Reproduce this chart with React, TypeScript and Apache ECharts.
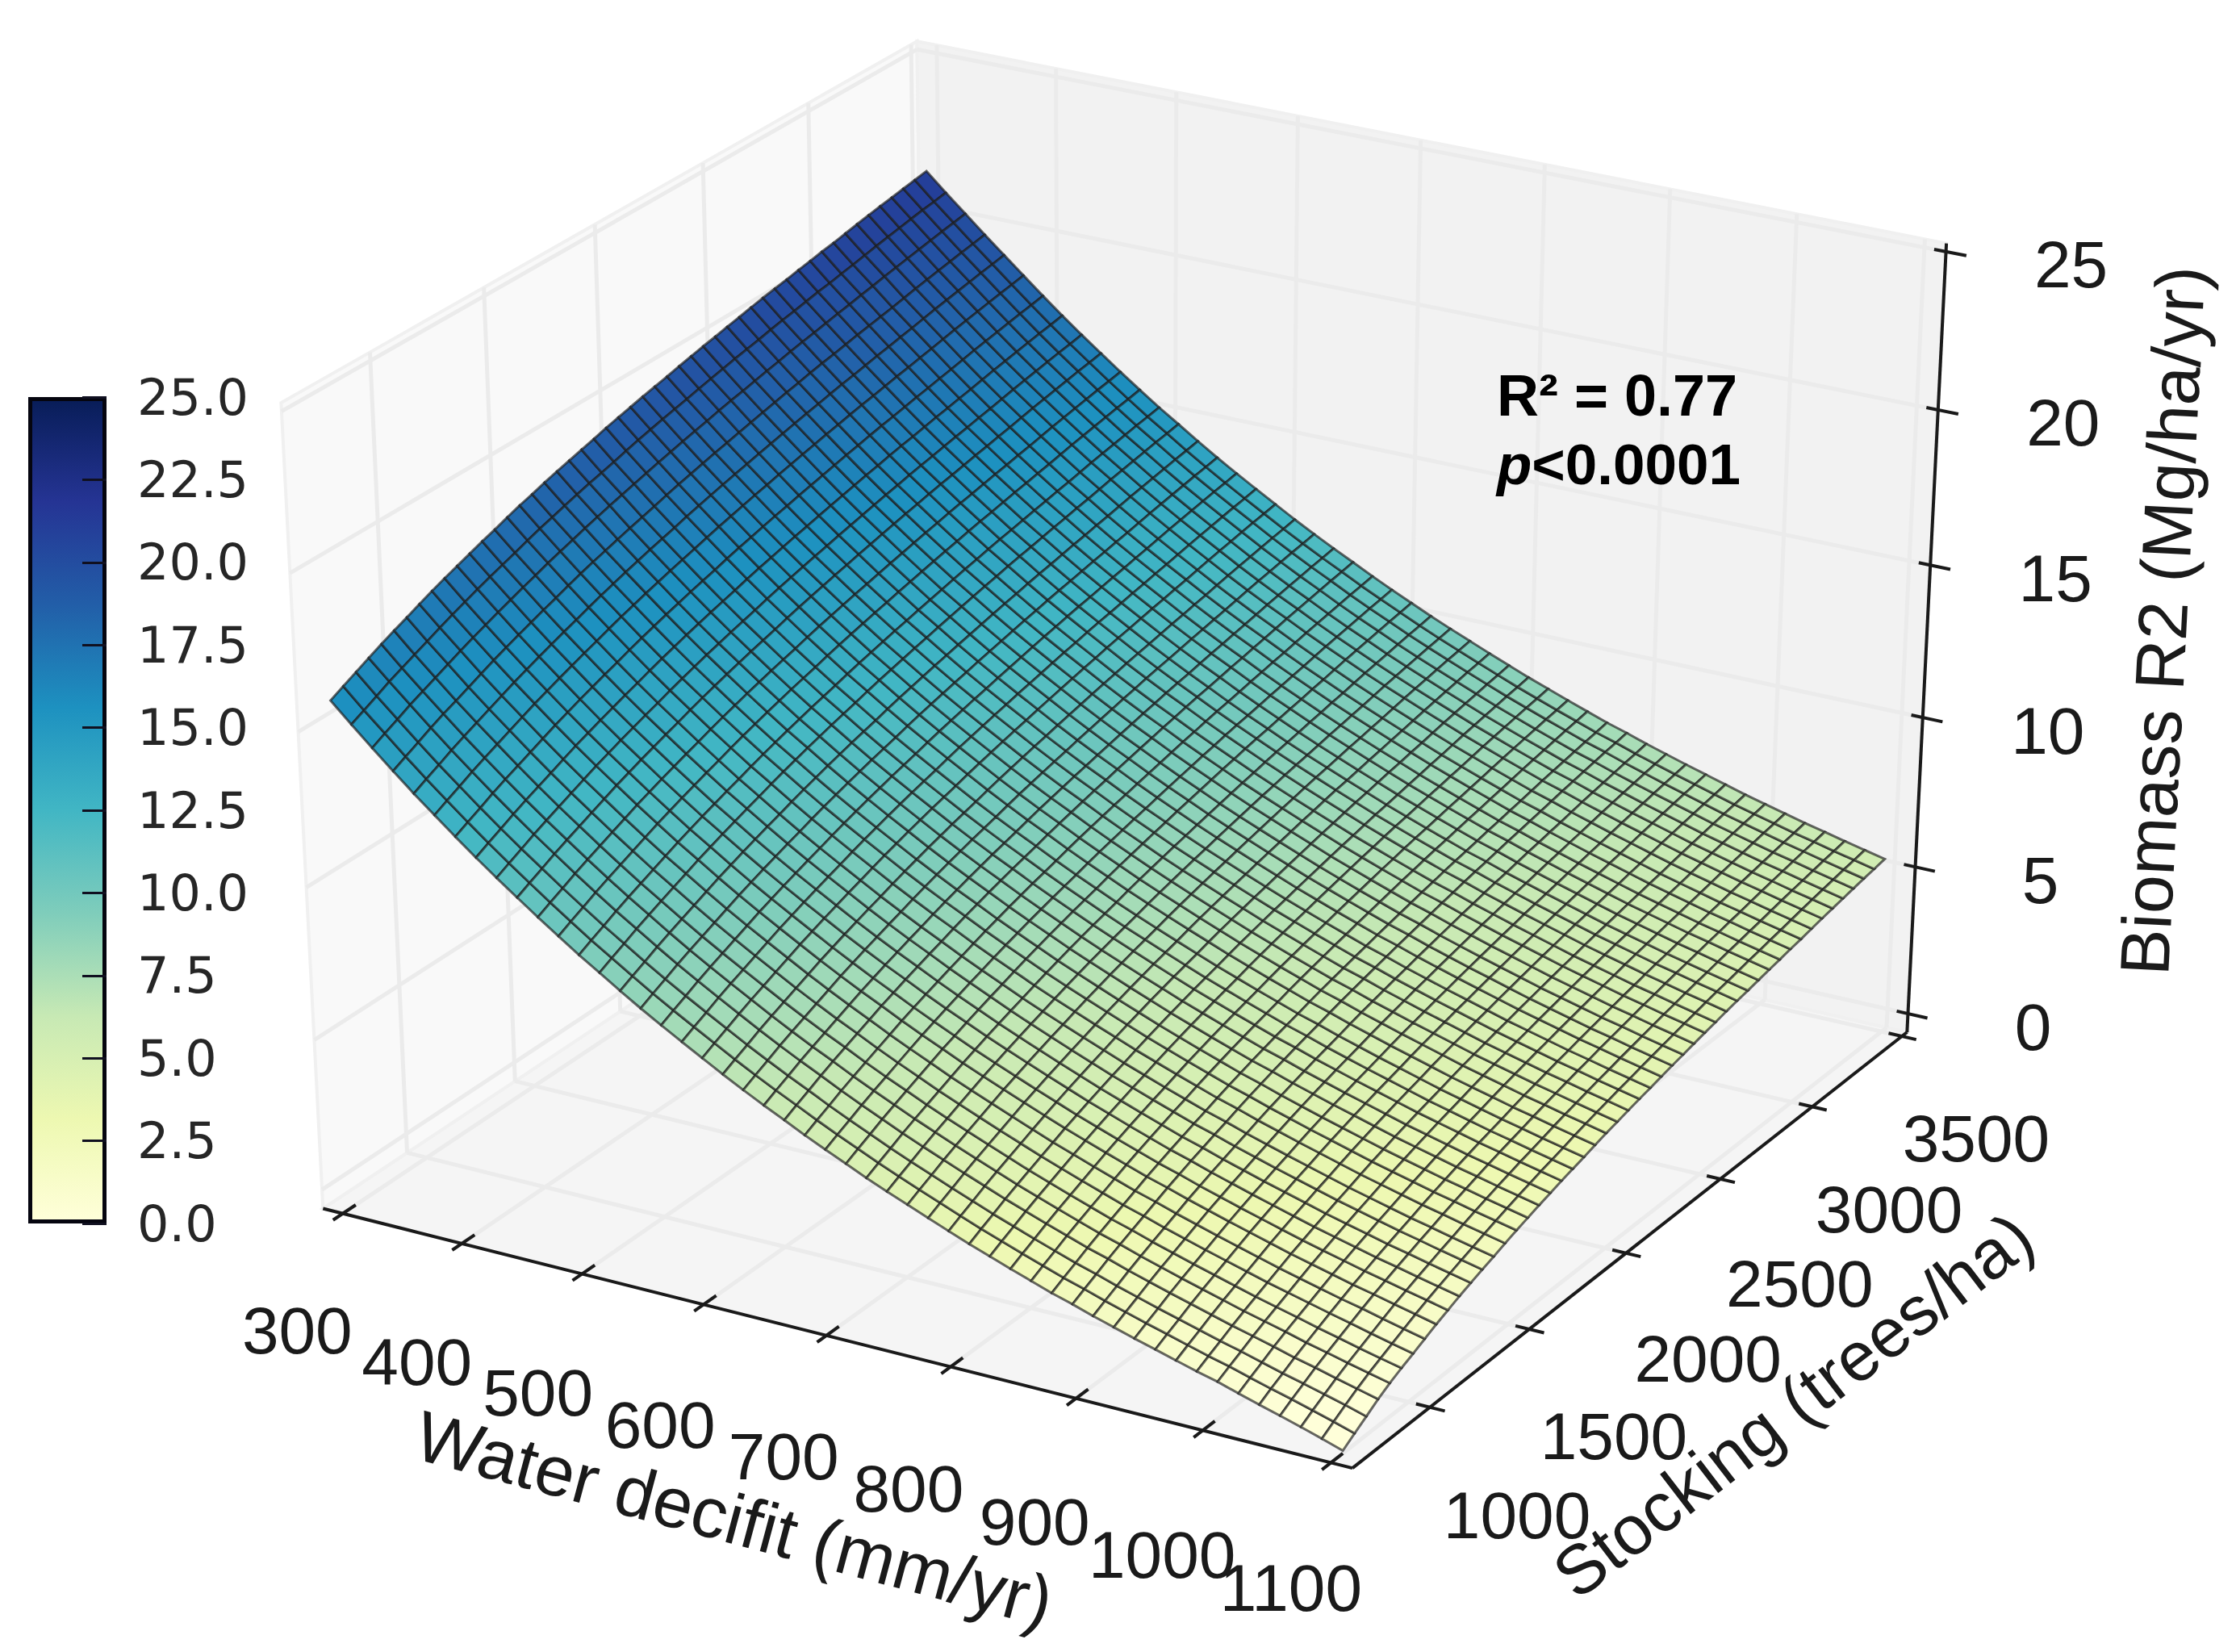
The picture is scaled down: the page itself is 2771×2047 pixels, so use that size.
import React, { useEffect, useRef } from "react";
import * as echarts from "echarts";

const waterDeficit = [300,316.3,332.7,349,365.3,381.6,398,414.3,430.6,446.9,463.3,479.6,495.9,512.2,528.6,544.9,561.2,577.6,593.9,610.2,626.5,642.9,659.2,675.5,691.8,708.2,724.5,740.8,757.1,773.5,789.8,806.1,822.4,838.8,855.1,871.4,887.8,904.1,920.4,936.7,953.1,969.4,985.7,1002,1018.4,1034.7,1051,1067.3,1083.7,1100];
const stocking = [677,734,791,848,905,962,1019,1076,1133,1190,1247,1304,1361,1418,1475,1532,1589,1646,1703,1760,1817,1874,1931,1988,2045,2102,2159,2216,2273,2330,2387,2444,2501,2558,2615,2672,2729,2786,2843,2900,2957,3014,3071,3128,3185,3242,3299,3356,3413,3471];
const biomass = [
[15.89,16.09,16.29,16.49,16.68,16.86,17.03,17.21,17.38,17.54,17.69,17.84,17.99,18.12,18.27,18.41,18.53,18.66,18.78,18.89,19.00,19.11,19.23,19.33,19.43,19.53,19.62,19.71,19.81,19.90,19.99,20.07,20.16,20.24,20.33,20.41,20.48,20.55,20.63,20.70,20.78,20.84,20.92,21.00,21.07,21.14,21.20,21.27,21.33,21.40],
[15.27,15.47,15.67,15.88,16.06,16.24,16.42,16.60,16.77,16.93,17.09,17.24,17.38,17.52,17.67,17.81,17.93,18.06,18.18,18.30,18.40,18.51,18.63,18.74,18.84,18.94,19.03,19.12,19.22,19.31,19.40,19.49,19.57,19.65,19.74,19.82,19.89,19.97,20.05,20.11,20.19,20.26,20.34,20.42,20.49,20.56,20.63,20.70,20.75,20.82],
[14.67,14.88,15.08,15.29,15.47,15.65,15.83,16.01,16.18,16.34,16.50,16.65,16.80,16.94,17.09,17.22,17.35,17.48,17.60,17.72,17.83,17.94,18.05,18.16,18.26,18.36,18.46,18.55,18.65,18.74,18.82,18.91,19.00,19.08,19.17,19.25,19.32,19.40,19.48,19.55,19.63,19.70,19.78,19.85,19.92,19.99,20.06,20.13,20.19,20.26],
[14.08,14.29,14.49,14.70,14.89,15.06,15.24,15.42,15.60,15.76,15.92,16.07,16.22,16.36,16.51,16.65,16.78,16.90,17.02,17.14,17.25,17.36,17.48,17.59,17.69,17.79,17.89,17.98,18.08,18.17,18.26,18.35,18.44,18.52,18.61,18.69,18.76,18.84,18.92,18.99,19.06,19.13,19.21,19.29,19.36,19.43,19.50,19.57,19.63,19.70],
[13.51,13.72,13.92,14.13,14.32,14.50,14.68,14.86,15.04,15.20,15.36,15.51,15.66,15.80,15.95,16.09,16.22,16.35,16.47,16.59,16.70,16.81,16.93,17.04,17.14,17.24,17.34,17.43,17.53,17.62,17.71,17.80,17.89,17.97,18.06,18.14,18.21,18.29,18.37,18.44,18.52,18.59,18.67,18.75,18.82,18.89,18.96,19.03,19.09,19.16],
[12.97,13.18,13.38,13.59,13.78,13.96,14.14,14.32,14.50,14.66,14.82,14.97,15.12,15.26,15.41,15.55,15.68,15.81,15.93,16.05,16.16,16.27,16.39,16.50,16.60,16.70,16.80,16.89,16.99,17.08,17.17,17.26,17.35,17.43,17.52,17.60,17.67,17.75,17.83,17.90,17.98,18.05,18.13,18.21,18.28,18.35,18.42,18.49,18.55,18.62],
[12.43,12.64,12.84,13.05,13.24,13.42,13.60,13.78,13.96,14.12,14.28,14.43,14.58,14.72,14.87,15.01,15.14,15.27,15.39,15.51,15.62,15.73,15.85,15.96,16.06,16.16,16.26,16.35,16.45,16.54,16.63,16.72,16.81,16.89,16.98,17.06,17.13,17.21,17.29,17.36,17.44,17.51,17.59,17.67,17.74,17.81,17.88,17.95,18.01,18.08],
[11.91,12.12,12.32,12.53,12.72,12.90,13.08,13.26,13.44,13.60,13.76,13.91,14.06,14.20,14.35,14.49,14.62,14.75,14.87,14.99,15.10,15.21,15.33,15.44,15.54,15.64,15.74,15.83,15.93,16.02,16.11,16.20,16.29,16.37,16.46,16.54,16.61,16.69,16.77,16.84,16.92,16.99,17.07,17.15,17.22,17.29,17.36,17.43,17.49,17.56],
[11.41,11.62,11.82,12.03,12.22,12.40,12.58,12.76,12.94,13.10,13.26,13.41,13.56,13.70,13.85,13.99,14.12,14.25,14.37,14.49,14.60,14.71,14.83,14.94,15.04,15.14,15.24,15.33,15.43,15.52,15.61,15.70,15.79,15.87,15.96,16.04,16.11,16.19,16.27,16.34,16.42,16.49,16.57,16.65,16.72,16.79,16.86,16.93,16.99,17.06],
[10.93,11.14,11.34,11.55,11.74,11.92,12.10,12.28,12.46,12.62,12.78,12.93,13.08,13.22,13.37,13.51,13.64,13.77,13.89,14.01,14.12,14.23,14.35,14.46,14.56,14.66,14.76,14.85,14.95,15.04,15.13,15.22,15.31,15.39,15.48,15.56,15.63,15.71,15.79,15.86,15.94,16.01,16.09,16.17,16.24,16.31,16.38,16.45,16.51,16.58],
[10.45,10.66,10.86,11.07,11.26,11.44,11.62,11.80,11.98,12.14,12.30,12.45,12.60,12.74,12.89,13.03,13.16,13.29,13.41,13.53,13.64,13.75,13.87,13.98,14.08,14.18,14.28,14.37,14.47,14.56,14.65,14.74,14.83,14.91,15.00,15.08,15.15,15.23,15.31,15.38,15.46,15.53,15.61,15.69,15.76,15.83,15.90,15.97,16.03,16.10],
[9.99,10.20,10.40,10.61,10.80,10.98,11.16,11.34,11.52,11.68,11.84,11.99,12.14,12.28,12.43,12.57,12.70,12.83,12.95,13.07,13.18,13.29,13.41,13.52,13.62,13.72,13.82,13.91,14.01,14.10,14.19,14.28,14.37,14.45,14.54,14.62,14.69,14.77,14.85,14.92,15.00,15.07,15.15,15.23,15.30,15.37,15.44,15.51,15.57,15.64],
[9.54,9.75,9.95,10.16,10.35,10.53,10.71,10.89,11.07,11.23,11.39,11.54,11.69,11.83,11.98,12.12,12.25,12.38,12.50,12.62,12.73,12.84,12.96,13.07,13.17,13.27,13.37,13.46,13.56,13.65,13.74,13.83,13.92,14.00,14.09,14.17,14.24,14.32,14.40,14.47,14.55,14.62,14.70,14.78,14.85,14.92,14.99,15.06,15.12,15.19],
[9.12,9.33,9.53,9.74,9.93,10.11,10.29,10.47,10.65,10.81,10.97,11.12,11.27,11.41,11.56,11.70,11.83,11.96,12.08,12.20,12.31,12.42,12.54,12.65,12.75,12.85,12.95,13.04,13.14,13.23,13.32,13.41,13.50,13.58,13.67,13.75,13.82,13.90,13.98,14.05,14.13,14.20,14.28,14.36,14.43,14.50,14.57,14.64,14.70,14.77],
[8.69,8.90,9.10,9.31,9.50,9.68,9.86,10.04,10.22,10.38,10.54,10.69,10.84,10.98,11.13,11.27,11.40,11.53,11.65,11.77,11.88,11.99,12.11,12.22,12.32,12.42,12.52,12.61,12.71,12.80,12.89,12.98,13.07,13.15,13.24,13.32,13.39,13.47,13.55,13.62,13.70,13.77,13.85,13.93,14.00,14.07,14.14,14.21,14.27,14.34],
[8.28,8.49,8.69,8.90,9.09,9.27,9.45,9.63,9.81,9.97,10.13,10.28,10.43,10.57,10.72,10.86,10.99,11.12,11.24,11.36,11.47,11.58,11.70,11.81,11.91,12.01,12.11,12.20,12.30,12.39,12.48,12.57,12.66,12.74,12.83,12.91,12.98,13.06,13.14,13.21,13.29,13.36,13.44,13.52,13.59,13.66,13.73,13.80,13.86,13.93],
[7.89,8.10,8.30,8.51,8.70,8.88,9.06,9.24,9.42,9.58,9.74,9.89,10.04,10.18,10.33,10.47,10.60,10.73,10.85,10.97,11.08,11.19,11.31,11.42,11.52,11.62,11.72,11.81,11.91,12.00,12.09,12.18,12.27,12.35,12.44,12.52,12.59,12.67,12.75,12.82,12.90,12.97,13.05,13.13,13.20,13.27,13.34,13.41,13.47,13.54],
[7.51,7.72,7.92,8.13,8.32,8.50,8.68,8.86,9.04,9.20,9.36,9.51,9.66,9.80,9.95,10.09,10.22,10.35,10.47,10.59,10.70,10.81,10.93,11.04,11.14,11.24,11.34,11.43,11.53,11.62,11.71,11.80,11.89,11.97,12.06,12.14,12.21,12.29,12.37,12.44,12.52,12.59,12.67,12.75,12.82,12.89,12.96,13.03,13.09,13.16],
[7.14,7.35,7.55,7.76,7.95,8.13,8.31,8.49,8.67,8.83,8.99,9.14,9.29,9.43,9.58,9.72,9.85,9.98,10.10,10.22,10.33,10.44,10.56,10.67,10.77,10.87,10.97,11.06,11.16,11.25,11.34,11.43,11.52,11.60,11.69,11.77,11.84,11.92,12.00,12.07,12.15,12.22,12.30,12.38,12.45,12.52,12.59,12.66,12.72,12.79],
[6.77,6.98,7.18,7.39,7.58,7.76,7.94,8.12,8.30,8.46,8.62,8.77,8.92,9.06,9.21,9.35,9.48,9.61,9.73,9.85,9.96,10.07,10.19,10.30,10.40,10.50,10.60,10.69,10.79,10.88,10.97,11.06,11.15,11.23,11.32,11.40,11.47,11.55,11.63,11.70,11.78,11.85,11.93,12.01,12.08,12.15,12.22,12.29,12.35,12.42],
[6.42,6.63,6.83,7.04,7.23,7.41,7.59,7.77,7.95,8.11,8.27,8.42,8.57,8.71,8.86,9.00,9.13,9.26,9.38,9.50,9.61,9.72,9.84,9.95,10.05,10.15,10.25,10.34,10.44,10.53,10.62,10.71,10.80,10.88,10.97,11.05,11.12,11.20,11.28,11.35,11.43,11.50,11.58,11.66,11.73,11.80,11.87,11.94,12.00,12.07],
[6.08,6.29,6.49,6.70,6.89,7.07,7.25,7.43,7.61,7.77,7.93,8.08,8.23,8.37,8.52,8.66,8.79,8.92,9.04,9.16,9.27,9.38,9.50,9.61,9.71,9.81,9.91,10.00,10.10,10.19,10.28,10.37,10.46,10.54,10.63,10.71,10.78,10.86,10.94,11.01,11.09,11.16,11.24,11.32,11.39,11.46,11.53,11.60,11.66,11.73],
[5.76,5.97,6.17,6.38,6.57,6.75,6.93,7.11,7.29,7.45,7.61,7.76,7.91,8.05,8.20,8.34,8.47,8.60,8.72,8.84,8.95,9.06,9.18,9.29,9.39,9.49,9.59,9.68,9.78,9.87,9.96,10.05,10.14,10.22,10.31,10.39,10.46,10.54,10.62,10.69,10.77,10.84,10.92,11.00,11.07,11.14,11.21,11.28,11.34,11.41],
[5.43,5.64,5.84,6.05,6.24,6.42,6.60,6.78,6.96,7.12,7.28,7.43,7.58,7.72,7.87,8.01,8.14,8.27,8.39,8.51,8.62,8.73,8.85,8.96,9.06,9.16,9.26,9.35,9.45,9.54,9.63,9.72,9.81,9.89,9.98,10.06,10.13,10.21,10.29,10.36,10.44,10.51,10.59,10.67,10.74,10.81,10.88,10.95,11.01,11.08],
[5.12,5.33,5.53,5.74,5.93,6.11,6.29,6.47,6.65,6.81,6.97,7.12,7.27,7.41,7.56,7.70,7.83,7.96,8.08,8.20,8.31,8.42,8.54,8.65,8.75,8.85,8.95,9.04,9.14,9.23,9.32,9.41,9.50,9.58,9.67,9.75,9.82,9.90,9.98,10.05,10.13,10.20,10.28,10.36,10.43,10.50,10.57,10.64,10.70,10.77],
[4.82,5.03,5.23,5.44,5.63,5.81,5.99,6.17,6.35,6.51,6.67,6.82,6.97,7.11,7.26,7.40,7.53,7.66,7.78,7.90,8.01,8.12,8.24,8.35,8.45,8.55,8.65,8.74,8.84,8.93,9.02,9.11,9.20,9.28,9.37,9.45,9.52,9.60,9.68,9.75,9.83,9.90,9.98,10.06,10.13,10.20,10.27,10.34,10.40,10.47],
[4.52,4.73,4.93,5.14,5.33,5.51,5.69,5.87,6.05,6.21,6.37,6.52,6.67,6.81,6.96,7.10,7.23,7.36,7.48,7.60,7.71,7.82,7.94,8.05,8.15,8.25,8.35,8.44,8.54,8.63,8.72,8.81,8.90,8.98,9.07,9.15,9.22,9.30,9.38,9.45,9.53,9.60,9.68,9.76,9.83,9.90,9.97,10.04,10.10,10.17],
[4.24,4.45,4.65,4.86,5.05,5.23,5.41,5.59,5.77,5.93,6.09,6.24,6.39,6.53,6.68,6.82,6.95,7.08,7.20,7.32,7.43,7.54,7.66,7.77,7.87,7.97,8.07,8.16,8.26,8.35,8.44,8.53,8.62,8.70,8.79,8.87,8.94,9.02,9.10,9.17,9.25,9.32,9.40,9.48,9.55,9.62,9.69,9.76,9.82,9.89],
[3.97,4.18,4.38,4.59,4.78,4.96,5.14,5.32,5.50,5.66,5.82,5.97,6.12,6.26,6.41,6.55,6.68,6.81,6.93,7.05,7.16,7.27,7.39,7.50,7.60,7.70,7.80,7.89,7.99,8.08,8.17,8.26,8.35,8.43,8.52,8.60,8.67,8.75,8.83,8.90,8.98,9.05,9.13,9.21,9.28,9.35,9.42,9.49,9.55,9.62],
[3.70,3.91,4.11,4.32,4.51,4.69,4.87,5.05,5.23,5.39,5.55,5.70,5.85,5.99,6.14,6.28,6.41,6.54,6.66,6.78,6.89,7.00,7.12,7.23,7.33,7.43,7.53,7.62,7.72,7.81,7.90,7.99,8.08,8.16,8.25,8.33,8.40,8.48,8.56,8.63,8.71,8.78,8.86,8.94,9.01,9.08,9.15,9.22,9.28,9.35],
[3.44,3.65,3.85,4.06,4.25,4.43,4.61,4.79,4.97,5.13,5.29,5.44,5.59,5.73,5.88,6.02,6.15,6.28,6.40,6.52,6.63,6.74,6.86,6.97,7.07,7.17,7.27,7.36,7.46,7.55,7.64,7.73,7.82,7.90,7.99,8.07,8.14,8.22,8.30,8.37,8.45,8.52,8.60,8.68,8.75,8.82,8.89,8.96,9.02,9.09],
[3.18,3.39,3.59,3.80,3.99,4.17,4.35,4.53,4.71,4.87,5.03,5.18,5.33,5.47,5.62,5.76,5.89,6.02,6.14,6.26,6.37,6.48,6.60,6.71,6.81,6.91,7.01,7.10,7.20,7.29,7.38,7.47,7.56,7.64,7.73,7.81,7.88,7.96,8.04,8.11,8.19,8.26,8.34,8.42,8.49,8.56,8.63,8.70,8.76,8.83],
[2.94,3.15,3.35,3.56,3.75,3.93,4.11,4.29,4.47,4.63,4.79,4.94,5.09,5.23,5.38,5.52,5.65,5.78,5.90,6.02,6.13,6.24,6.36,6.47,6.57,6.67,6.77,6.86,6.96,7.05,7.14,7.23,7.32,7.40,7.49,7.57,7.64,7.72,7.80,7.87,7.95,8.02,8.10,8.18,8.25,8.32,8.39,8.46,8.52,8.59],
[2.70,2.91,3.11,3.32,3.51,3.69,3.87,4.05,4.23,4.39,4.55,4.70,4.85,4.99,5.14,5.28,5.41,5.54,5.66,5.78,5.89,6.00,6.12,6.23,6.33,6.43,6.53,6.62,6.72,6.81,6.90,6.99,7.08,7.16,7.25,7.33,7.40,7.48,7.56,7.63,7.71,7.78,7.86,7.94,8.01,8.08,8.15,8.22,8.28,8.35],
[2.47,2.68,2.88,3.09,3.28,3.46,3.64,3.82,4.00,4.16,4.32,4.47,4.62,4.76,4.91,5.05,5.18,5.31,5.43,5.55,5.66,5.77,5.89,6.00,6.10,6.20,6.30,6.39,6.49,6.58,6.67,6.76,6.85,6.93,7.02,7.10,7.17,7.25,7.33,7.40,7.48,7.55,7.63,7.71,7.78,7.85,7.92,7.99,8.05,8.12],
[2.24,2.45,2.65,2.86,3.05,3.23,3.41,3.59,3.77,3.93,4.09,4.24,4.39,4.53,4.68,4.82,4.95,5.08,5.20,5.32,5.43,5.54,5.66,5.77,5.87,5.97,6.07,6.16,6.26,6.35,6.44,6.53,6.62,6.70,6.79,6.87,6.94,7.02,7.10,7.17,7.25,7.32,7.40,7.48,7.55,7.62,7.69,7.76,7.82,7.89],
[2.04,2.25,2.45,2.66,2.85,3.03,3.21,3.39,3.57,3.73,3.89,4.04,4.19,4.33,4.48,4.62,4.75,4.88,5.00,5.12,5.23,5.34,5.46,5.57,5.67,5.77,5.87,5.96,6.06,6.15,6.24,6.33,6.42,6.50,6.59,6.67,6.74,6.82,6.90,6.97,7.05,7.12,7.20,7.28,7.35,7.42,7.49,7.56,7.62,7.69],
[1.82,2.03,2.23,2.44,2.63,2.81,2.99,3.17,3.35,3.51,3.67,3.82,3.97,4.11,4.26,4.40,4.53,4.66,4.78,4.90,5.01,5.12,5.24,5.35,5.45,5.55,5.65,5.74,5.84,5.93,6.02,6.11,6.20,6.28,6.37,6.45,6.52,6.60,6.68,6.75,6.83,6.90,6.98,7.06,7.13,7.20,7.27,7.34,7.40,7.47],
[1.62,1.83,2.03,2.24,2.43,2.61,2.79,2.97,3.15,3.31,3.47,3.62,3.77,3.91,4.06,4.20,4.33,4.46,4.58,4.70,4.81,4.92,5.04,5.15,5.25,5.35,5.45,5.54,5.64,5.73,5.82,5.91,6.00,6.08,6.17,6.25,6.32,6.40,6.48,6.55,6.63,6.70,6.78,6.86,6.93,7.00,7.07,7.14,7.20,7.27],
[1.42,1.63,1.83,2.04,2.23,2.41,2.59,2.77,2.95,3.11,3.27,3.42,3.57,3.71,3.86,4.00,4.13,4.26,4.38,4.50,4.61,4.72,4.84,4.95,5.05,5.15,5.25,5.34,5.44,5.53,5.62,5.71,5.80,5.88,5.97,6.05,6.12,6.20,6.28,6.35,6.43,6.50,6.58,6.66,6.73,6.80,6.87,6.94,7.00,7.07],
[1.23,1.44,1.64,1.85,2.04,2.22,2.40,2.58,2.76,2.92,3.08,3.23,3.38,3.52,3.67,3.81,3.94,4.07,4.19,4.31,4.42,4.53,4.65,4.76,4.86,4.96,5.06,5.15,5.25,5.34,5.43,5.52,5.61,5.69,5.78,5.86,5.93,6.01,6.09,6.16,6.24,6.31,6.39,6.47,6.54,6.61,6.68,6.75,6.81,6.88],
[1.04,1.25,1.45,1.66,1.85,2.03,2.21,2.39,2.57,2.73,2.89,3.04,3.19,3.33,3.48,3.62,3.75,3.88,4.00,4.12,4.23,4.34,4.46,4.57,4.67,4.77,4.87,4.96,5.06,5.15,5.24,5.33,5.42,5.50,5.59,5.67,5.74,5.82,5.90,5.97,6.05,6.12,6.20,6.28,6.35,6.42,6.49,6.56,6.62,6.69],
[0.85,1.06,1.26,1.47,1.66,1.84,2.02,2.20,2.38,2.54,2.70,2.85,3.00,3.14,3.29,3.43,3.56,3.69,3.81,3.93,4.04,4.15,4.27,4.38,4.48,4.58,4.68,4.77,4.87,4.96,5.05,5.14,5.23,5.31,5.40,5.48,5.55,5.63,5.71,5.78,5.86,5.93,6.01,6.09,6.16,6.23,6.30,6.37,6.43,6.50],
[0.68,0.89,1.09,1.30,1.49,1.67,1.85,2.03,2.21,2.37,2.53,2.68,2.83,2.97,3.12,3.26,3.39,3.52,3.64,3.76,3.87,3.98,4.10,4.21,4.31,4.41,4.51,4.60,4.70,4.79,4.88,4.97,5.06,5.14,5.23,5.31,5.38,5.46,5.54,5.61,5.69,5.76,5.84,5.92,5.99,6.06,6.13,6.20,6.26,6.33],
[0.47,0.69,0.90,1.12,1.32,1.50,1.68,1.86,2.04,2.20,2.36,2.51,2.66,2.80,2.95,3.09,3.22,3.35,3.47,3.59,3.70,3.81,3.93,4.04,4.14,4.24,4.34,4.43,4.53,4.62,4.71,4.80,4.89,4.97,5.06,5.14,5.21,5.29,5.37,5.44,5.52,5.59,5.67,5.75,5.82,5.89,5.96,6.03,6.09,6.16],
[0.27,0.50,0.71,0.93,1.13,1.32,1.51,1.69,1.87,2.03,2.19,2.34,2.49,2.63,2.78,2.92,3.05,3.18,3.30,3.42,3.53,3.64,3.76,3.87,3.97,4.07,4.17,4.26,4.36,4.45,4.54,4.63,4.72,4.80,4.89,4.97,5.04,5.12,5.20,5.27,5.35,5.42,5.50,5.58,5.65,5.72,5.79,5.86,5.92,5.99],
[0.08,0.32,0.54,0.77,0.97,1.16,1.35,1.54,1.72,1.88,2.04,2.19,2.34,2.48,2.63,2.77,2.90,3.03,3.15,3.27,3.38,3.49,3.61,3.72,3.82,3.92,4.02,4.11,4.21,4.30,4.39,4.48,4.57,4.65,4.74,4.82,4.89,4.97,5.05,5.12,5.20,5.27,5.35,5.43,5.50,5.57,5.64,5.71,5.77,5.84],
[-0.12,0.13,0.36,0.59,0.80,0.99,1.18,1.37,1.56,1.72,1.88,2.03,2.18,2.32,2.47,2.61,2.74,2.87,2.99,3.11,3.22,3.33,3.45,3.56,3.66,3.76,3.86,3.95,4.05,4.14,4.23,4.32,4.41,4.49,4.58,4.66,4.73,4.81,4.89,4.96,5.04,5.11,5.19,5.27,5.34,5.41,5.48,5.55,5.61,5.68],
[-0.33,-0.07,0.18,0.42,0.64,0.83,1.02,1.21,1.40,1.57,1.73,1.88,2.03,2.17,2.32,2.46,2.59,2.72,2.84,2.96,3.07,3.18,3.30,3.41,3.51,3.61,3.71,3.80,3.90,3.99,4.08,4.17,4.26,4.34,4.43,4.51,4.58,4.66,4.74,4.81,4.89,4.96,5.04,5.12,5.19,5.26,5.33,5.40,5.46,5.53],
[-0.55,-0.28,-0.02,0.25,0.48,0.68,0.86,1.05,1.24,1.41,1.58,1.73,1.88,2.02,2.17,2.31,2.44,2.57,2.69,2.81,2.92,3.03,3.15,3.26,3.36,3.46,3.56,3.65,3.75,3.84,3.93,4.02,4.11,4.19,4.28,4.36,4.43,4.51,4.59,4.66,4.74,4.81,4.89,4.97,5.04,5.11,5.18,5.25,5.31,5.38],
];
const xTicks = [300, 400, 500, 600, 700, 800, 900, 1000, 1100];
const yTicks = [1000, 1500, 2000, 2500, 3000, 3500];
const zTicks = [0, 5, 10, 15, 20, 25];
const xLim = [283.3, 1116.7];
const yLim = [619, 3529];
const zLim = [-0.64, 25.26];
const palette = ["#ffffd9", "#edf8b1", "#c7e9b4", "#7fcdbb", "#41b6c4", "#1d91c0", "#225ea8", "#253494", "#081d58"];

function project(x: number, y: number, z: number): number[] {
  const qx = (x - xLim[0]) / (xLim[1] - xLim[0]) - 0.5;
  const qy = (y - yLim[0]) / (yLim[1] - yLim[0]) - 0.5;
  const qz = (z - zLim[0]) / (zLim[1] - zLim[0]) - 0.5;
  const u = 0.866025 * qx + 0.5 * qy;
  const v = -0.25 * qx + 0.433013 * qy + 0.866025 * qz;
  const n = 0.433013 * qx - 0.75 * qy + 0.5 * qz;
  const w = 10 - n;
  return [1397 + (14726 * u) / w, 905 - (11400 * v) / w];
}

const SANS = "'Liberation Sans', Arial, sans-serif";
const INK = "#1a1a1a";

function segment(a: number[], b: number[], stroke: string, lineWidth: number) {
  const p = project(a[0], a[1], a[2]);
  const q = project(b[0], b[1], b[2]);
  return { type: "line", shape: { x1: p[0], y1: p[1], x2: q[0], y2: q[1] }, style: { stroke, lineWidth, lineCap: "butt" } };
}
function pane(corners: number[][], fill: string) {
  return {
    type: "polygon",
    shape: { points: corners.map((c) => project(c[0], c[1], c[2])) },
    style: { fill, stroke: "#f0f0f0", lineWidth: 4 },
  };
}
function label(text: string, x: number, y: number, fontSize: number, rotation = 0) {
  return {
    type: "text",
    x,
    y,
    rotation,
    style: { text, fontSize, fontFamily: SANS, fill: INK, align: "center", verticalAlign: "middle" },
  };
}

function backdrop() {
  const [x0, x1] = xLim;
  const [y0, y1] = yLim;
  const [z0, z1] = zLim;
  const kids: any[] = [
    pane([[x0, y0, z0], [x1, y0, z0], [x1, y1, z0], [x0, y1, z0]], "#f5f5f5"),
    pane([[x0, y0, z0], [x0, y1, z0], [x0, y1, z1], [x0, y0, z1]], "#f9f9f9"),
    pane([[x0, y1, z0], [x1, y1, z0], [x1, y1, z1], [x0, y1, z1]], "#f2f2f2"),
  ];
  const G = "#ebebeb";
  xTicks.forEach((t) => {
    kids.push(segment([t, y0, z0], [t, y1, z0], G, 5), segment([t, y1, z0], [t, y1, z1], G, 5));
  });
  yTicks.forEach((t) => {
    kids.push(segment([x1, t, z0], [x0, t, z0], G, 5), segment([x0, t, z0], [x0, t, z1], G, 5));
  });
  zTicks.forEach((t) => {
    kids.push(segment([x0, y0, t], [x0, y1, t], G, 5), segment([x0, y1, t], [x1, y1, t], G, 5));
  });
  return { type: "group", children: kids };
}

function foreground() {
  const [x0, x1] = xLim;
  const [y0, y1] = yLim;
  const [z0, z1] = zLim;
  const dx = x1 - x0;
  const dy = y1 - y0;
  const AX = 4;
  const kids: any[] = [
    segment([x0, y0, z0], [x1, y0, z0], INK, AX),
    segment([x1, y0, z0], [x1, y1, z0], INK, AX),
    segment([x1, y1, z0], [x1, y1, z1], INK, AX),
  ];
  xTicks.forEach((t) => {
    kids.push(segment([t, y0 - 0.015 * dy, z0], [t, y0 + 0.02 * dy, z0], INK, AX));
    const p = project(t, y0, z0);
    const f = (t - 300) / 800;
    kids.push(label(String(t), p[0] - 56.5 + 7 * f, p[1] + 145 + 10 * f, 82));
  });
  yTicks.forEach((t) => {
    kids.push(segment([x1 - 0.013 * dx, t, z0], [x1 + 0.014 * dx, t, z0], INK, AX));
    const p = project(x1, t, z0);
    const f = (t - 1000) / 2500;
    kids.push(label(String(t), p[0] + 108 - 16 * f, p[1] + 134 - 8 * f, 82));
  });
  zTicks.forEach((t) => {
    kids.push(segment([x1 - 0.011 * dx, y1, t], [x1 + 0.019 * dx, y1, t], INK, AX));
    const p = project(x1, y1, t);
    kids.push(label(String(t), p[0] + 155, p[1] + 16, 82));
  });
  kids.push(label("Water decifit (mm/yr)", 910, 1882, 88, (-15 * Math.PI) / 180));
  kids.push(label("Stocking (trees/ha)", 2222, 1741, 86, (37.5 * Math.PI) / 180));
  kids.push(label("Biomass R2 (Mg/ha/yr)", 2680, 769, 86, (87 * Math.PI) / 180));
  kids.push({
    type: "text",
    x: 1855,
    y: 526,
    style: { text: "R\u00b2 = 0.77", fontSize: 72, fontWeight: "bold", fontFamily: SANS, fill: "#000", align: "left", verticalAlign: "bottom" },
  });
  kids.push({
    type: "text",
    x: 1855,
    y: 611,
    style: {
      text: "{i|p}{b|<0.0001}",
      align: "left",
      verticalAlign: "bottom",
      rich: {
        i: { fontSize: 71, fontWeight: "bold", fontStyle: "italic", fontFamily: SANS, fill: "#000" },
        b: { fontSize: 71, fontWeight: "bold", fontFamily: SANS, fill: "#000" },
      },
    },
  });
  return { type: "group", children: kids };
}

function colorOf(z: number) {
  return echarts.color.lerp(Math.min(1, Math.max(0, z / 25)), palette);
}

export default function App() {
  const ref = useRef<HTMLDivElement>(null);
  useEffect(() => {
    const chart = echarts.init(ref.current!, undefined, { renderer: "svg" });
    const cells: number[][] = [];
    for (let i = 0; i < waterDeficit.length - 1; i++) {
      for (let j = 0; j < stocking.length - 1; j++) cells.push([i, j]);
    }
    chart.setOption({
      animation: false,
      backgroundColor: "#ffffff",
      grid: { left: 35, top: 492, width: 97, height: 1024 },
      xAxis: { type: "category", data: [""], show: false },
      yAxis: {
        type: "value",
        position: "right",
        min: 0,
        max: 25,
        interval: 2.5,
        z: 10,
        splitLine: { show: false },
        axisLine: { show: false },
        axisTick: { show: true, inside: true, length: 30, lineStyle: { color: "#101020", width: 3 } },
        axisLabel: {
          margin: 38,
          fontSize: 62,
          fontFamily: "'DejaVu Sans'",
          color: "#262626",
          padding: [0, 0, 40, 0],
          formatter: (v: number) => v.toFixed(1),
        },
      },
      series: [
        {
          type: "bar",
          data: [25],
          barWidth: "100%",
          silent: true,
          itemStyle: {
            borderColor: "#05050f",
            borderWidth: 5,
            color: new echarts.graphic.LinearGradient(
              0, 1, 0, 0,
              palette.map((color, k) => ({ offset: k / (palette.length - 1), color }))
            ),
          },
        },
        {
          type: "custom",
          coordinateSystem: "none",
          silent: true,
          z: 1,
          data: [[0]],
          renderItem: () => backdrop(),
        },
        {
          type: "custom",
          coordinateSystem: "none",
          silent: true,
          z: 3,
          data: cells,
          renderItem: (_p: any, api: any) => {
            const i = api.value(0);
            const j = api.value(1);
            const corners = [[i, j], [i + 1, j], [i + 1, j + 1], [i, j + 1]];
            const mean = corners.reduce((s, c) => s + biomass[c[0]][c[1]], 0) / 4;
            return {
              type: "polygon",
              shape: { points: corners.map((c) => project(waterDeficit[c[0]], stocking[c[1]], biomass[c[0]][c[1]])) },
              style: { fill: colorOf(mean), stroke: "rgba(30,30,30,0.68)", lineWidth: 3 },
            };
          },
        },
        {
          type: "custom",
          coordinateSystem: "none",
          silent: true,
          z: 4,
          data: [[0]],
          renderItem: () => foreground(),
        },
      ],
    });
    return () => chart.dispose();
  }, []);
  return <div ref={ref} style={{ position: "absolute", left: 0, top: 0, width: 2771, height: 2047 }} />;
}
